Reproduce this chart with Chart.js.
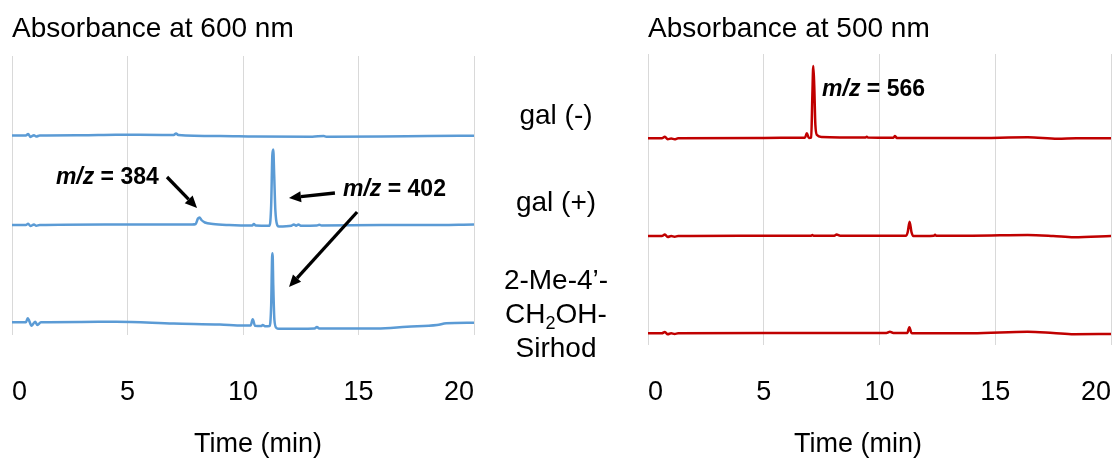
<!DOCTYPE html>
<html>
<head>
<meta charset="utf-8">
<script src="https://cdn.jsdelivr.net/npm/chart.js@4.4.1/dist/chart.umd.min.js"></script>
<style>
  html, body { margin: 0; padding: 0; background: #fff; overflow: hidden; }
  body { width: 1115px; height: 459px; position: relative; font-family: 'Liberation Sans', Arial, sans-serif; }
  canvas { position: absolute; top: 0; }
  #left-chart { left: 0; }
  #right-chart { left: 636px; }
  .sample { position: absolute; left: 476px; width: 160px; text-align: center; font-size: 28px; line-height: 34px; color: #000; }
  .sample sub { font-size: 18px; line-height: 0; vertical-align: -6px; }
</style>
</head>
<body>
<canvas id="left-chart" width="490" height="459"></canvas>
<canvas id="right-chart" width="479" height="459"></canvas>
<div class="sample" style="top:98px">gal (-)</div>
<div class="sample" style="top:185px">gal (+)</div>
<div class="sample" style="top:263px">2-Me-4’-<br>CH<sub>2</sub>OH-<br>Sirhod</div>
<script>
/*
 * Chromatograms: absorbance at 600 nm and 500 nm, three samples stacked
**/
const timeTicks = [0, 5, 10, 15, 20]

// [time (min), absorbance (stacked, arbitrary units)]
const galMinus600 = [[0,199.5],[0.6,199.5],[0.7,201],[0.8,198],[0.95,199.8],[1.05,198.5],[1.2,199.5],[3,199.8],[4.5,200.3],[6.5,200],[7.0,200],[7.1,201.5],[7.2,200],[9,199],[10.5,198.5],[13,198.3],[13.5,199],[13.6,198.3],[16,198.5],[18,199],[20,199.3]]
const galPlus600 = [[0,110],[0.6,110],[0.7,111.3],[0.8,109],[0.95,110.5],[1.05,109.2],[1.2,110],[4,110.5],[7.8,110.5],[7.95,111],[8.05,116.5],[8.12,117.5],[8.2,115],[8.35,112.5],[8.7,111],[9.4,110],[10.4,109.5],[10.47,111],[10.55,109.5],[11.15,109.3],[11.22,130],[11.27,180],[11.31,185.5],[11.35,160],[11.4,125],[11.48,110],[11.55,108.5],[12.1,109.3],[12.2,110.5],[12.3,109.3],[12.4,110.5],[12.5,109.3],[13.2,109.5],[13.3,110.2],[13.4,109.5],[16,110],[18,110],[20,110.5]]
const sirhod600 = [[0,12.7],[0.6,12.7],[0.68,16.7],[0.85,9.3],[1.0,13.3],[1.1,10],[1.25,12.7],[3,13],[4.5,13.3],[7,11.5],[9,10.5],[10.0,9.5],[10.33,9.5],[10.42,15.7],[10.52,9.2],[10.8,9],[10.85,10],[10.95,8.8],[11.15,9],[11.22,30],[11.26,78],[11.28,81.7],[11.31,50],[11.36,15],[11.45,7],[11.55,6.2],[13.1,6.5],[13.2,8],[13.3,6.5],[15.8,6.5],[17.1,8.3],[18.4,10],[18.8,11.7],[20,12.3]]

const galMinus500 = [[0,206.7],[0.6,206.7],[0.73,208.3],[0.85,205.7],[1.0,206.5],[1.15,205.7],[1.3,206.7],[5,207],[6.5,207.3],[6.78,207.3],[6.86,211.7],[6.95,207],[7.05,207.5],[7.1,250],[7.14,279],[7.18,260],[7.23,220],[7.3,210],[7.5,208],[9.4,207.5],[9.45,208.3],[9.5,207.5],[10.6,207.3],[10.67,209],[10.75,207],[14,207],[16.4,207.7],[17.7,206.3],[18.5,206.7],[20,206.7]]
const galPlus500 = [[0,109],[0.6,109],[0.73,110.5],[0.85,108],[1.0,109],[1.15,108.2],[1.3,109],[4,109.3],[7.05,109.3],[7.1,110],[7.15,109.3],[8.05,109.3],[8.15,110.5],[8.3,109.3],[11.15,109.3],[11.22,113],[11.3,123.3],[11.38,113],[11.46,109],[12.35,109.3],[12.4,110.2],[12.45,109.3],[14,109.3],[16.4,110],[17.5,109],[18.4,107.7],[20,109]]
const sirhod500 = [[0,11.7],[0.6,11.7],[0.73,13],[0.85,10.8],[1.0,11.7],[1.15,11],[1.3,11.7],[5,12],[10.3,12],[10.45,13.3],[10.6,12],[11.2,12],[11.29,17.7],[11.38,12],[11.5,11.7],[14,11.7],[16.4,13.3],[17.5,12],[18.4,10.7],[20,11]]

// annotations, in data coordinates
const leftLabels = [
  { mz: '384', at: [1.9, 157] },
  { mz: '402', at: [14.33, 145] }
]
const leftArrows = [
  { from: [6.71, 158], to: [8.01, 127] },
  { from: [13.98, 142], to: [11.99, 137] },
  { from: [14.94, 123], to: [11.99, 48] }
]
const rightLabels = [
  { mz: '566', at: [7.52, 255] }
]
// axis captions sit a little off the centre of each plot in the original
const axisCaption = 'Time (min)'
const leftCaptionAt = [10.65, -110]
const rightCaptionAt = [9.07, -100]

const FONT = "'Liberation Sans', Arial, sans-serif"
const BLUE = '#5b9bd5'
const RED = '#c00000'

Chart.defaults.font.family = FONT
Chart.defaults.color = '#000'

// Draws the "m/z = ..." labels, arrows and the axis caption through the chart's scales
const annotate = {
  id: 'annotate',
  afterDatasetsDraw(chart, args, opts) {
    const { ctx, scales: { x, y } } = chart
    ctx.save()
    ctx.strokeStyle = '#000'
    ctx.fillStyle = '#000'
    ;(opts.arrows || []).forEach(a => {
      const x0 = x.getPixelForValue(a.from[0]), y0 = y.getPixelForValue(a.from[1])
      const x1 = x.getPixelForValue(a.to[0]), y1 = y.getPixelForValue(a.to[1])
      const ang = Math.atan2(y1 - y0, x1 - x0)
      const head = 12, half = 5.5
      const bx = x1 - head * Math.cos(ang), by = y1 - head * Math.sin(ang)
      ctx.lineWidth = 3.3
      ctx.beginPath()
      ctx.moveTo(x0, y0)
      ctx.lineTo(bx, by)
      ctx.stroke()
      ctx.beginPath()
      ctx.moveTo(x1, y1)
      ctx.lineTo(bx + half * Math.sin(ang), by - half * Math.cos(ang))
      ctx.lineTo(bx - half * Math.sin(ang), by + half * Math.cos(ang))
      ctx.closePath()
      ctx.fill()
    })
    ctx.textBaseline = 'middle'
    ctx.textAlign = 'left'
    ;(opts.labels || []).forEach(l => {
      let px = x.getPixelForValue(l.at[0])
      const py = y.getPixelForValue(l.at[1])
      ctx.font = `italic bold 23px ${FONT}`
      ctx.fillText('m/z', px, py)
      px += ctx.measureText('m/z').width
      ctx.font = `bold 23px ${FONT}`
      ctx.fillText(` = ${l.mz}`, px, py)
    })
    if (opts.caption) {
      ctx.font = `27px ${FONT}`
      ctx.textAlign = 'center'
      ctx.fillText(opts.caption.text, x.getPixelForValue(opts.caption.at[0]), y.getPixelForValue(opts.caption.at[1]))
    }
    ctx.restore()
  }
}

function trace(points, color) {
  return {
    data: points.map(p => ({ x: p[0], y: p[1] })),
    borderColor: color,
    borderWidth: 2.5,
    pointRadius: 0,
    cubicInterpolationMode: 'monotone',
    fill: false
  }
}

function config(title, datasets, yMax, pad, labels, arrows, captionAt) {
  return {
    type: 'line',
    data: { datasets },
    plugins: [annotate],
    options: {
      responsive: false,
      animation: false,
      devicePixelRatio: 1,
      // bottom padding leaves the room of the axis caption
      layout: { padding: { left: pad.left, right: pad.right, top: 0, bottom: 49.8 } },
      scales: {
        x: {
          type: 'linear',
          min: 0,
          max: 20,
          afterBuildTicks: axis => { axis.ticks = timeTicks.map(v => ({ value: v })) },
          border: { display: false },
          // tick marks are invisible, their length sets the gap above the labels
          grid: { color: '#d9d9d9', lineWidth: 1, drawTicks: true, tickLength: pad.tickGap, tickColor: 'rgba(0,0,0,0)' },
          ticks: {
            align: 'inner',
            maxRotation: 0,
            padding: 0,
            font: { size: 27, lineHeight: 1.2 },
            color: '#000'
          },
          title: { display: false }
        },
        y: { display: false, min: 0, max: yMax }
      },
      plugins: {
        legend: { display: false },
        tooltip: { enabled: false },
        title: {
          display: true,
          text: title,
          align: 'start',
          color: '#000',
          font: { size: 28, weight: 'normal', lineHeight: 1.2 },
          padding: { top: 12.5, bottom: pad.titleBottom }
        },
        annotate: { labels, arrows, caption: { text: axisCaption, at: captionAt } }
      }
    }
  }
}

new Chart(document.getElementById('left-chart'), config(
  'Absorbance at 600 nm',
  [trace(galMinus600, BLUE), trace(galPlus600, BLUE), trace(sirhod600, BLUE)],
  279,
  { left: 12, right: 16, tickGap: 41.8, titleBottom: 9.9 },
  leftLabels, leftArrows, leftCaptionAt
))

new Chart(document.getElementById('right-chart'), config(
  'Absorbance at 500 nm',
  [trace(galMinus500, RED), trace(galPlus500, RED), trace(sirhod500, RED)],
  291,
  { left: 12, right: 4, tickGap: 31.8, titleBottom: 7.9 },
  rightLabels, [], rightCaptionAt
))
</script>
</body>
</html>
